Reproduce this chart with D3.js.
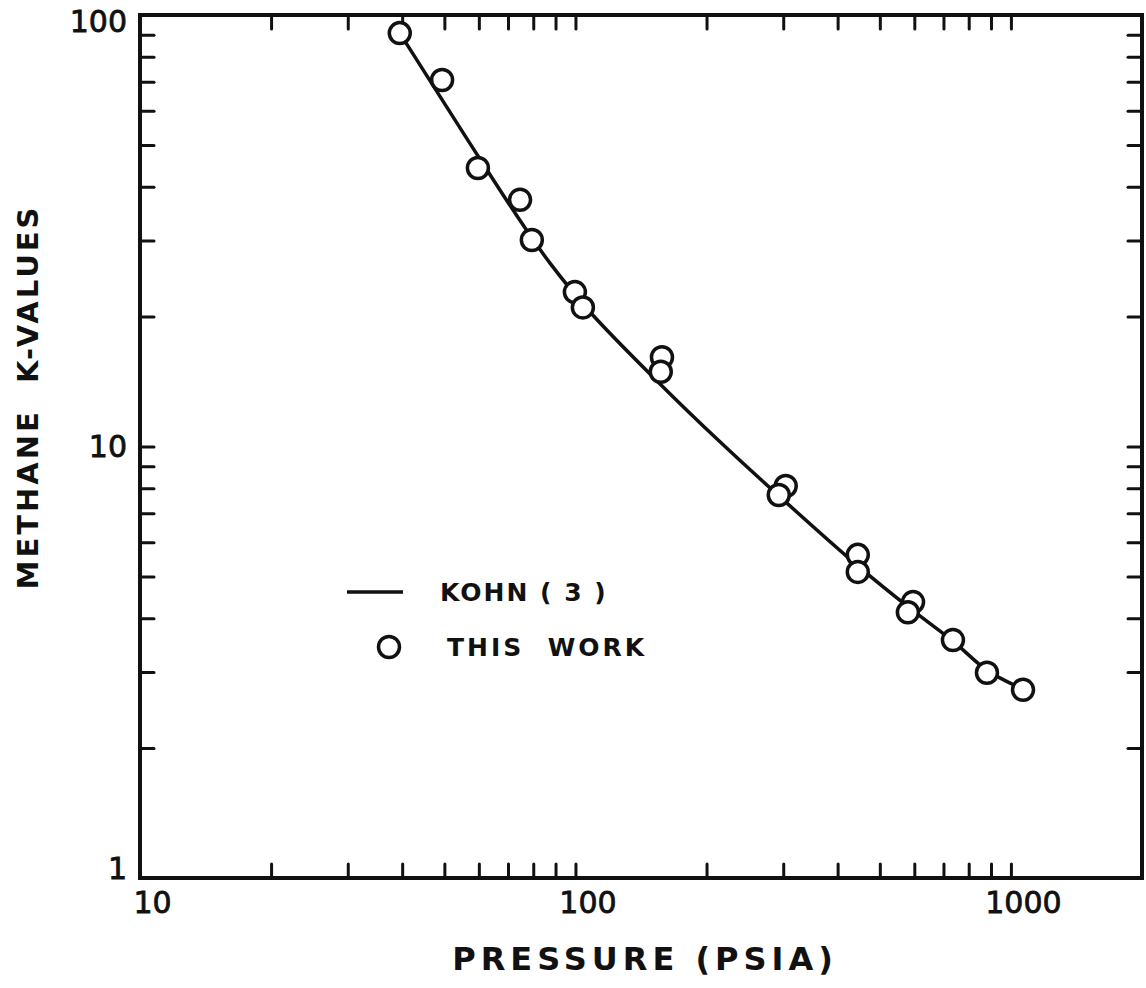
<!DOCTYPE html>
<html>
<head>
<meta charset="utf-8">
<script src="https://cdn.jsdelivr.net/npm/d3@7"></script>
<style>
  body { margin: 0; background: #fff; }
  text { font-family: "DejaVu Sans", sans-serif; fill: #111; }
</style>
</head>
<body>
<div id="chart"></div>
<script>
/**
 * DATA
 * */
// circles: this work
const pressure = [39.5, 49.4, 59.7, 74.6, 79.4, 99.7, 104, 158, 157, 304, 293, 445, 445, 596, 580, 736, 881, 1066];
const kValue = [90.8, 70.7, 44.2, 37.3, 30.1, 22.8, 21.0, 16.1, 14.9, 8.10, 7.72, 5.61, 5.12, 4.36, 4.13, 3.56, 2.99, 2.73];

// solid line: Kohn (3)
const kohnP = [39.5, 56.6, 72.6, 87.4, 108, 156, 215, 295, 443, 586, 736, 881, 1049];
const kohnK = [90.8, 51.3, 34.8, 26.6, 20.5, 14.0, 10.24, 7.64, 5.31, 4.22, 3.54, 3.03, 2.76];

const xTickLabels = [10, 100, 1000];
const yTickLabels = [1, 10, 100];
const xMinorTicks = [20, 30, 40, 50, 60, 70, 80, 90, 100, 200, 300, 400, 500, 600, 700, 800, 900, 1000];
const yMinorTicks = [2, 3, 4, 5, 6, 7, 8, 9, 10, 20, 30, 40, 50, 60, 70, 80, 90];

/**
 * CONSTANTS
 * */
const width = 1146,
  height = 988,
  margin = { top: 15, bottom: 110, left: 140, right: 4 };

const svg = d3.select("#chart")
  .append("svg")
  .attr("width", width)
  .attr("height", height);

const x = d3.scaleLog()
  .domain([10, 2000])
  .range([margin.left, width - margin.right]);

const y = d3.scaleLog()
  .domain([1, 100])
  .range([height - margin.bottom, margin.top]);

const tickLen = 14;

// inward ticks on all four sides
function styleTicks(g) {
  g.select(".domain").remove();
  g.selectAll(".tick line")
    .attr("stroke", "#111")
    .attr("stroke-width", 3)
    .attr("stroke-linecap", "round");
}

svg.append("g")
  .attr("transform", `translate(0, ${y.range()[0]})`)
  .call(d3.axisBottom(x).tickValues(xMinorTicks).tickSize(-tickLen).tickFormat(""))
  .call(styleTicks);

svg.append("g")
  .attr("transform", `translate(0, ${y.range()[1]})`)
  .call(d3.axisTop(x).tickValues(xMinorTicks).tickSize(-tickLen).tickFormat(""))
  .call(styleTicks);

svg.append("g")
  .attr("transform", `translate(${x.range()[0]}, 0)`)
  .call(d3.axisLeft(y).tickValues(yMinorTicks).tickSize(-tickLen).tickFormat(""))
  .call(styleTicks);

svg.append("g")
  .attr("transform", `translate(${x.range()[1]}, 0)`)
  .call(d3.axisRight(y).tickValues(yMinorTicks).tickSize(-tickLen).tickFormat(""))
  .call(styleTicks);

// frame
svg.append("rect")
  .attr("x", x.range()[0])
  .attr("y", y.range()[1])
  .attr("width", x.range()[1] - x.range()[0])
  .attr("height", y.range()[0] - y.range()[1])
  .attr("fill", "none")
  .attr("stroke", "#111")
  .attr("stroke-width", 4);

// tick labels
function styleLabels(sel) {
  sel.style("font-size", "30px")
    .style("font-family", "'DejaVu Sans', sans-serif")
    .attr("fill", "#111")
    .attr("stroke", "#111")
    .attr("stroke-width", 0.8);
}

const xLab = svg.append("g")
  .attr("transform", `translate(0, ${y.range()[0]})`)
  .call(d3.axisBottom(x).tickValues(xTickLabels).tickSize(0).tickPadding(14).tickFormat(d3.format("d")));
xLab.select(".domain").remove();
xLab.selectAll("text")
  .attr("dx", 12)
  .call(styleLabels);

const yLab = svg.append("g")
  .attr("transform", `translate(${x.range()[0]}, 0)`)
  .call(d3.axisLeft(y).tickValues(yTickLabels).tickSize(0).tickPadding(13).tickFormat(d3.format("d")));
yLab.select(".domain").remove();
yLab.selectAll("text")
  .attr("y", d => d === 100 ? 7 : d === 1 ? -9 : 0)
  .call(styleLabels);

// axis titles
svg.append("text")
  .attr("x", 645)
  .attr("y", 970)
  .attr("text-anchor", "middle")
  .style("font-size", "32px")
  .style("font-weight", "bold")
  .style("letter-spacing", "5px")
  .text("PRESSURE (PSIA)");

svg.append("text")
  .attr("transform", "translate(38, 397) rotate(-90)")
  .attr("text-anchor", "middle")
  .style("font-size", "29px")
  .style("font-weight", "bold")
  .style("letter-spacing", "3px")
  .style("white-space", "pre")
  .text("METHANE  K-VALUES");

// Kohn line
const kohn = kohnP.map((p, i) => ({ p, k: kohnK[i] }));
const line = d3.line()
  .x(d => x(d.p))
  .y(d => y(d.k))
  .curve(d3.curveCatmullRom);

svg.append("path")
  .datum(kohn)
  .attr("d", line)
  .attr("fill", "none")
  .attr("stroke", "#111")
  .attr("stroke-width", 3.5);

// this work
const points = pressure.map((p, i) => ({ p, k: kValue[i] }));
svg.selectAll(".pt")
  .data(points)
  .join("circle")
  .attr("class", "pt")
  .attr("cx", d => x(d.p))
  .attr("cy", d => y(d.k))
  .attr("r", 10.5)
  .attr("fill", "#fff")
  .attr("stroke", "#111")
  .attr("stroke-width", 3.5);

// legend
const legend = svg.append("g");
legend.append("line")
  .attr("x1", 347).attr("x2", 403)
  .attr("y1", 592).attr("y2", 592)
  .attr("stroke", "#111")
  .attr("stroke-width", 3.5);
legend.append("text")
  .attr("x", 440).attr("y", 601)
  .style("font-size", "25px")
  .style("font-weight", "bold")
  .style("letter-spacing", "2px")
  .style("white-space", "pre")
  .text("KOHN ( 3 )");
legend.append("circle")
  .attr("cx", 389).attr("cy", 647)
  .attr("r", 10.5)
  .attr("fill", "#fff")
  .attr("stroke", "#111")
  .attr("stroke-width", 3.5);
legend.append("text")
  .attr("x", 447).attr("y", 656)
  .style("font-size", "25px")
  .style("font-weight", "bold")
  .style("letter-spacing", "3px")
  .style("white-space", "pre")
  .text("THIS  WORK");
</script>
</body>
</html>
